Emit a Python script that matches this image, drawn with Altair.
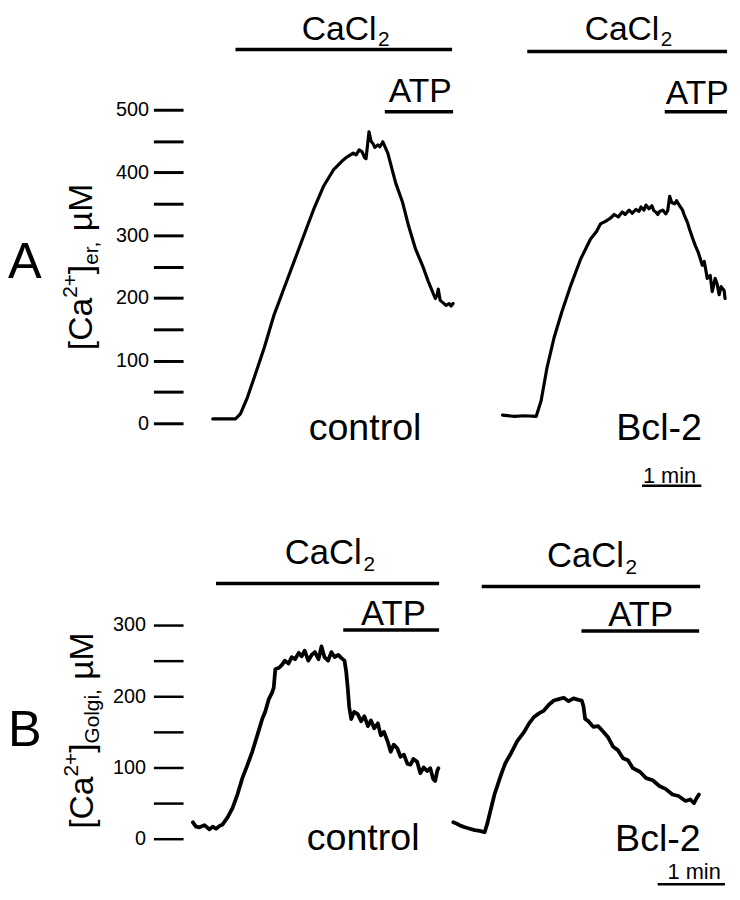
import altair as alt
import pandas as pd

FONT = "Liberation Sans"

# ---------------- Panel A : [Ca2+]er  (time in s, concentration in µM) ----------------
a_ctrl_t = [30, 53, 58, 65, 73, 82, 92, 102, 112, 122,
            132, 142, 152, 162, 166, 172, 175, 178, 181, 183.5,
            185, 188, 190, 192, 194, 197, 199, 202, 205, 207,
            215, 222, 228, 235, 242, 248, 255, 257, 258, 260,
            263, 266, 269, 271, 273]
a_ctrl_v = [7, 7, 15, 41, 78, 120, 173, 215, 257, 299,
            341, 378, 404, 420, 425, 431, 428, 436, 433, 424,
            422, 465, 450, 446, 440, 444, 441, 449, 438, 431,
            383, 352, 315, 278, 252, 226, 199, 205, 214, 196,
            192, 188, 191, 187, 191]

a_bcl_t = [323, 335, 345, 357, 362, 368, 375, 383, 392, 402,
           412, 418, 422, 427, 432, 436, 440, 444, 447, 451,
           454, 458, 461, 463, 466, 468, 471, 474, 476, 478,
           480, 482, 485, 488, 490, 492, 494, 497, 499, 502,
           505, 507, 510, 512, 515, 518, 521, 523, 525, 527,
           530, 533, 535, 538, 540, 542, 544, 547, 548]
a_bcl_v = [13, 11, 12, 11, 36, 89, 136, 178, 220, 262,
           294, 306, 318, 322, 327, 333, 329, 337, 333, 340,
           335, 341, 338, 345, 340, 348, 342, 347, 339, 337,
           333, 338, 340, 334, 339, 362, 352, 350, 355, 347,
           340, 331, 320, 310, 296, 283, 272, 262, 252, 258,
           231, 236, 210, 231, 222, 205, 218, 212, 199]

# ---------------- Panel B : [Ca2+]Golgi ----------------
b_ctrl_t = [8.8, 11.5, 14.7, 19.1, 23.5, 26.5, 29.4, 32.6, 35.3, 39.7,
            44.1, 48.5, 52.9, 57.3, 61.7, 66.2, 70.6, 73.2, 76.5, 79.4,
            80.9, 82.3, 85.6, 88.2, 90.8, 94.1, 97.0, 99.9, 103.2, 105.8,
            108.5, 111.7, 114.7, 117.6, 120.8, 123.5, 126.1, 129.4, 132.3, 135.2,
            138.5, 141.1, 144.0, 145.5, 147.0, 148.2, 150.0, 152.6, 155.8, 158.8,
            161.7, 164.9, 167.6, 170.5, 173.8, 176.4, 179.3, 182.6, 185.2, 187.9,
            191.1, 194.0, 197.0, 200.2, 202.9, 205.5, 208.8, 211.7, 214.6, 217.9,
            220.5, 223.1, 224.9, 226.7, 227.8]
b_ctrl_v = [23, 17, 16, 19, 13, 17, 14, 18, 20, 30,
            43, 62, 85, 103, 122, 145, 168, 178, 196, 205,
            212, 238, 240, 244, 250, 246, 255, 252, 261, 256,
            264, 250, 258, 262, 252, 270, 255, 250, 262, 255,
            258, 254, 250, 235, 210, 185, 168, 178, 175, 165,
            172, 158, 166, 155, 162, 145, 150, 136, 122, 132,
            127, 115, 118, 105, 104, 112, 108, 92, 100, 95,
            99, 84, 81, 95, 99]

b_bcl_t = [241.1, 244.3, 247.8, 251.4, 255.8, 260.2, 264.6, 269.0, 271.2, 273.4,
           277.8, 283.7, 287.5, 292.6, 298.1, 304.3, 308.7, 313.1, 317.5, 321.9,
           326.3, 330.8, 335.2, 339.6, 344.0, 348.4, 352.8, 355.7, 357.2, 358.7,
           361.6, 366.0, 370.4, 374.9, 379.3, 383.7, 388.1, 392.5, 396.9, 401.3,
           407.5, 413.1, 419.0, 424.9, 430.4, 436.6, 441.9, 448.3, 452.5, 455.8,
           457.8, 460.2]
b_bcl_v = [23, 21, 18, 16, 14, 12, 11, 9, 20, 34,
           62, 90, 106, 120, 137, 150, 162, 171, 176, 180,
           188, 194, 196, 198, 193, 197, 195, 194, 186, 168,
           165, 157, 158, 150, 142, 129, 124, 113, 110, 99,
           94, 85, 82, 74, 70, 62, 60, 53, 55, 50,
           56, 62]

a_yticks = list(range(0, 501, 50))
b_yticks = list(range(0, 301, 50))

# ---------------- annotations ----------------
# treatment bars + 1-min scale bar: start (s), end (s), level (µM)
a_bar_start = [53, 204, 348, 487, 464]
a_bar_end = [272, 273, 550, 550, 524]
a_bar_level = [596, 497, 593, 497, -99.4]
b_bar_start = [29.4, 142.9, 266.4, 355.4, 423.4]
b_bar_end = [228.4, 228.4, 461.3, 460.4, 483.4]
b_bar_level = [358.3, 293, 354.2, 291.7, -63.9]
bar_w = [3.5, 3.5, 3.5, 3.5, 2.5]

a_labels = ["CaCl", "2", "CaCl", "2", "ATP", "ATP", "control", "Bcl-2", "1 min", "A"]
a_lab_t = [120, 197, 406, 483, 208, 488, 127, 438, 465, -177]
a_lab_v = [612, 601, 612, 601, 513, 509, -27, -27, -95, 232]
a_lab_fs = [34, 21, 34, 21, 34, 34, 38, 38, 22, 51]

b_labels = ["CaCl", "2", "CaCl", "2", "ATP", "ATP", "control", "Bcl-2", "1 min", "B"]
b_lab_t = [90.8, 161.0, 324.6, 394.7, 158.8, 379.3, 110.3, 385.4, 432.2, -156.1]
b_lab_v = [386.1, 376.4, 381.9, 372.2, 300, 298.6, -15.3, -16.7, -56.9, 130.6]
b_lab_fs = [35, 21, 35, 21, 35, 35, 38, 38, 22, 51]

# rotated y-titles built from pieces (main / superscript / subscript)
a_title = ["[Ca", "2+", "]", "er,", "µM"]
a_title_t = [-92, -107, -92, -86, -92]
a_title_v = [116.7, 200.2, 237.9, 252.8, 306.3]
b_title = ["[Ca", "2+", "]", "Golgi,", "µM"]
b_title_t = [-80.3, -93.5, -80.3, -75.0, -80.3]
b_title_v = [13.9, 87.4, 120.6, 133.7, 223.1]
title_fs = [34, 21, 34, 21, 34]


def panel(traces, bars, labels, titles, xdom, ydom, yvals, height, lw, tickw, labpad):
    xs = alt.Scale(domain=xdom, nice=False, zero=False)
    ys = alt.Scale(domain=ydom, nice=False, zero=False)
    yaxis = alt.Axis(values=yvals, format="d",
                     labelExpr="datum.value % 100 === 0 ? datum.label : ''",
                     domain=False, grid=False, ticks=True, tickSize=30, tickWidth=tickw,
                     tickColor="black", labelColor="black", labelFont=FONT,
                     labelFontSize=20, labelPadding=labpad, labelOverlap=False,
                     title=None)
    X = alt.X("t:Q", scale=xs, axis=None)
    Y = alt.Y("v:Q", scale=ys, axis=yaxis)
    lines = alt.Chart(traces).mark_line(
        color="black", strokeWidth=lw, strokeJoin="round", strokeCap="round"
    ).encode(x=X, y=Y, detail="trace:N")
    rules = alt.Chart(bars).mark_rule(color="black").encode(
        x=X, x2="t2:Q", y=Y, strokeWidth=alt.StrokeWidth("w:Q", scale=None))
    txt = alt.Chart(labels).mark_text(
        align="left", baseline="alphabetic", font=FONT, color="black"
    ).encode(x=X, y=Y, text="label:N", size=alt.Size("fs:Q", scale=None))
    rtxt = alt.Chart(titles).mark_text(
        align="left", baseline="alphabetic", angle=270, font=FONT, color="black"
    ).encode(x=X, y=Y, text="label:N", size=alt.Size("fs:Q", scale=None))
    return alt.layer(lines, rules, txt, rtxt).properties(width=555, height=height)


def traces_df(t1, v1, t2, v2):
    return pd.concat([
        pd.DataFrame({"t": t1, "v": v1, "trace": "control"}),
        pd.DataFrame({"t": t2, "v": v2, "trace": "Bcl-2"}),
    ])


pa = panel(
    traces_df(a_ctrl_t, a_ctrl_v, a_bcl_t, a_bcl_v),
    pd.DataFrame({"t": a_bar_start, "t2": a_bar_end, "v": a_bar_level, "w": bar_w}),
    pd.DataFrame({"t": a_lab_t, "v": a_lab_v, "label": a_labels, "fs": a_lab_fs}),
    pd.DataFrame({"t": a_title_t, "v": a_title_v, "label": a_title, "fs": title_fs}),
    [0, 555], [-108.8, 654.6], a_yticks, 484, 3.2, 3, 5,
)

pb = panel(
    traces_df(b_ctrl_t, b_ctrl_v, b_bcl_t, b_bcl_v),
    pd.DataFrame({"t": b_bar_start, "t2": b_bar_end, "v": b_bar_level, "w": bar_w}),
    pd.DataFrame({"t": b_lab_t, "v": b_lab_v, "label": b_labels, "fs": b_lab_fs}),
    pd.DataFrame({"t": b_title_t, "v": b_title_v, "label": b_title, "fs": title_fs}),
    [0, 489.7], [-66.7, 475], b_yticks, 390, 3.8, 2.5, 8,
)

chart = alt.vconcat(pa, pb, spacing=9, padding=0, background="white").resolve_scale(
    x="independent", y="independent"
).configure_view(stroke=None)

chart.save("out.html", embed_options={"renderer": "svg", "actions": False})
